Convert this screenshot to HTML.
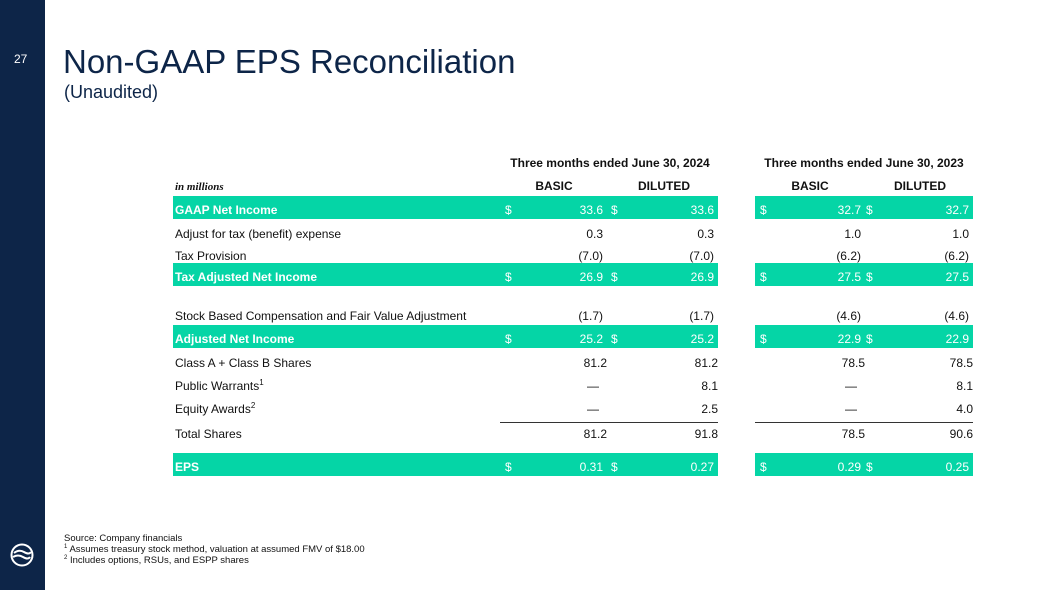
<!DOCTYPE html>
<html><head><meta charset="utf-8"><style>
body{margin:0;width:1050px;height:590px;position:relative;overflow:hidden;background:#fff;font-family:"Liberation Sans",Arial,sans-serif;color:#111}
.a{position:absolute;white-space:nowrap;font-size:12px;line-height:14px}
.r{text-align:right}
.band{position:absolute;background:#05d5a6}
.w{color:#fff}
.b{font-weight:bold}
.h{font-weight:bold;font-size:12px}
sup{font-size:8px;line-height:0}
</style></head><body>
<div style="position:absolute;left:0;top:0;width:45px;height:590px;background:#0d2548"></div>
<div class="a" style="left:14px;top:52px;color:#fff;font-size:12px">27</div>
<svg style="position:absolute;left:10px;top:543px" width="24" height="24" viewBox="0 0 24 24"><circle cx="12" cy="12" r="10.5" fill="none" stroke="#fff" stroke-width="2"/><path d="M4 10 Q9 6 14 9 T21 9 M3 14 Q8 11 13 14 T20 14" fill="none" stroke="#fff" stroke-width="2"/></svg>
<div class="a" style="left:63px;top:43px;font-size:33px;line-height:37px;color:#0d2548">Non-GAAP EPS Reconciliation</div>
<div class="a" style="left:64px;top:82px;font-size:18px;line-height:20px;color:#0d2548">(Unaudited)</div>

<div class="a h" style="left:510px;top:156px;width:200px;text-align:center">Three months ended June 30, 2024</div>
<div class="a h" style="left:764px;top:156px;width:200px;text-align:center">Three months ended June 30, 2023</div>
<div class="a" style="left:175px;top:180px;font-family:'Liberation Serif',serif;font-style:italic;font-weight:bold;font-size:11px">in millions</div>
<div class="a h" style="left:514px;top:179px;width:80px;text-align:center">BASIC</div>
<div class="a h" style="left:624px;top:179px;width:80px;text-align:center">DILUTED</div>
<div class="a h" style="left:770px;top:179px;width:80px;text-align:center">BASIC</div>
<div class="a h" style="left:880px;top:179px;width:80px;text-align:center">DILUTED</div>

<div id="rows"></div>
<div style="position:absolute;left:500px;top:422px;width:218px;height:1px;background:#333"></div>
<div style="position:absolute;left:755px;top:422px;width:218px;height:1px;background:#333"></div>

<div class="a" style="left:64px;top:533px;font-size:9.5px;line-height:12px">Source: Company financials</div>
<div class="a" style="left:64px;top:544px;font-size:9.5px;line-height:12px"><sup style="font-size:6px">1</sup> Assumes treasury stock method, valuation at assumed FMV of $18.00</div>
<div class="a" style="left:64px;top:555px;font-size:9.5px;line-height:12px"><sup style="font-size:6px">2</sup> Includes options, RSUs, and ESPP shares</div>

<script>
const labels=["GAAP Net Income","Adjust for tax (benefit) expense","Tax Provision","Tax Adjusted Net Income","Stock Based Compensation and Fair Value Adjustment","Adjusted Net Income","Class A + Class B Shares","Public Warrants<sup>1</sup>","Equity Awards<sup>2</sup>","Total Shares","EPS"];
const basic24=["33.6","0.3","(7.0)","26.9","(1.7)","25.2","81.2","—","—","81.2","0.31"];
const dil24=["33.6","0.3","(7.0)","26.9","(1.7)","25.2","81.2","8.1","2.5","91.8","0.27"];
const basic23=["32.7","1.0","(6.2)","27.5","(4.6)","22.9","78.5","—","—","78.5","0.29"];
const dil23=["32.7","1.0","(6.2)","27.5","(4.6)","22.9","78.5","8.1","4.0","90.6","0.25"];
const rowY=[210,234,256,277,316,339,363,386,409,434,467];
const hl=[true,false,false,true,false,true,false,false,false,false,true];
const shares=[false,false,false,false,false,false,true,true,true,true,false];
const root=document.getElementById('rows');
function add(html,cls,left,top,extra){const d=document.createElement('div');d.className='a '+cls;d.style.left=left+'px';d.style.top=top+'px';if(extra)d.style.cssText+=extra;d.innerHTML=html;root.appendChild(d);return d;}
labels.forEach((lab,i)=>{
  const y=rowY[i],t=y-7,h=hl[i];
  if(h){
    const b1=document.createElement('div');b1.className='band';b1.style.cssText='left:173px;top:'+(y-14)+'px;width:545px;height:23px';
    
    
    root.appendChild(b1);
    const b2=document.createElement('div');b2.className='band';b2.style.cssText='left:755px;top:'+(y-14)+'px;width:218px;height:23px';
    
    
    root.appendChild(b2);
    [505,611,760,866].forEach(x=>{const s=add('$','w',x,t);
      
      });
  }
  const c=h?'w b':'';
  const l=add(lab,c,175,t);
  
  
  const off=shares[i]?4:0;
  const vc=h?'w r':'r';
  const vals=[[basic24[i],603],[dil24[i],714],[basic23[i],861],[dil23[i],969]];
  vals.forEach(([v,right])=>{
    let r=right;
    if(v==='—')r=right-4;else r=right+off;
    const e=add(v,vc,r-80,t,'width:80px');
    
    
  });
});
</script>
</body></html>
